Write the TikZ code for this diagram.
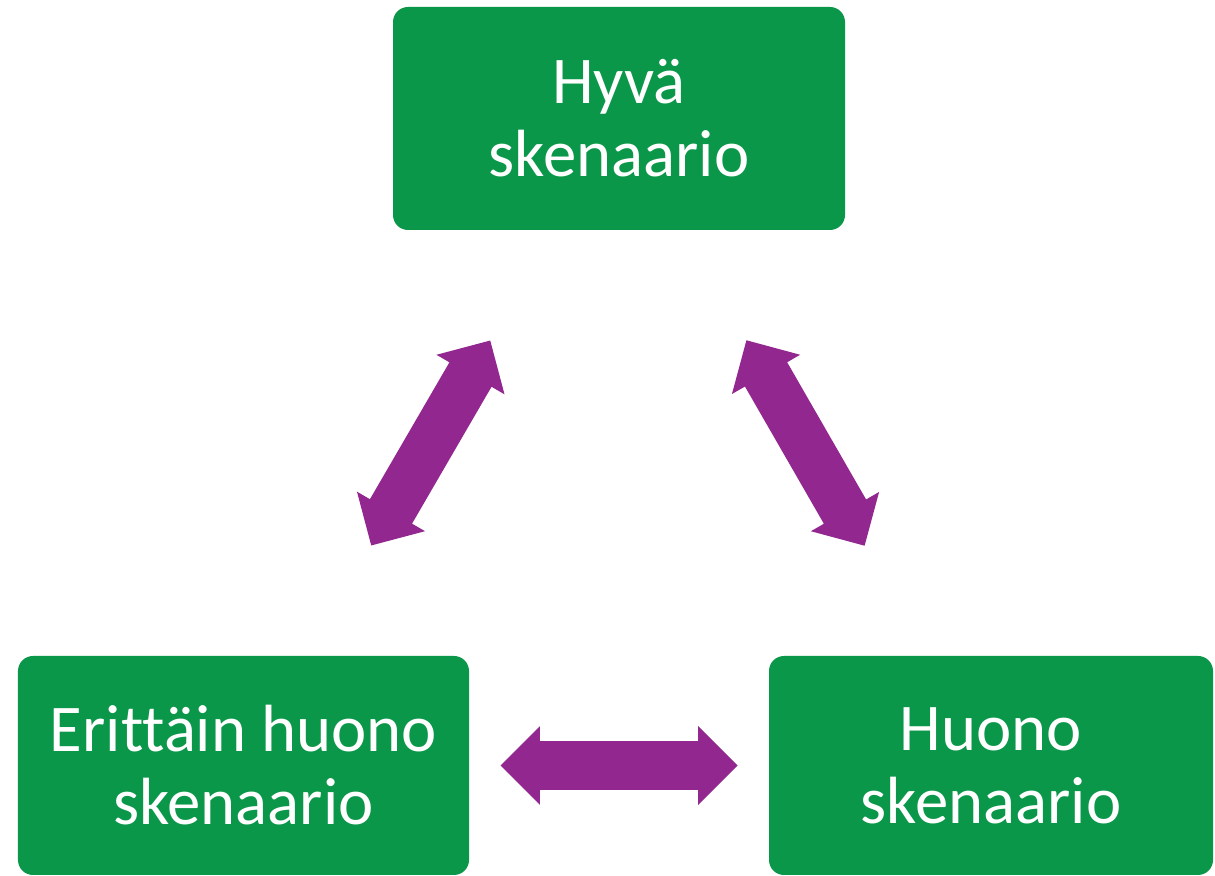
\documentclass[tikz,border=0pt]{standalone}
\usepackage{fontspec}
\setmainfont{Carlito}[Ligatures=NoCommon]
\usetikzlibrary{shapes.arrows}
\definecolor{scengreen}{RGB}{11,151,73}
\definecolor{arrowpurple}{RGB}{146,39,143}

\begin{document}
\begin{tikzpicture}[scenario/.style={shape=rectangle,rounded corners=0.3cm,fill=scengreen,text=white,
      align=center,inner sep=0pt,minimum width=9.02cm,minimum height=4.38cm,
      font=\fontsize{38}{41.5}\selectfont},
    fatarrow/.style={double arrow,fill=arrowpurple,draw=none,inner xsep=0pt,inner ysep=0.48cm,
      minimum height=4.74cm,
      double arrow head extend=0.3cm,double arrow tip angle=90}]
  \useasboundingbox (0,0) rectangle (24.3,17.52);
  % the three scenarios
  \node (good) [scenario,minimum width=9.04cm,minimum height=4.46cm] at (12.38,15.15) {Hyvä\\skenaario};
  \node (verybad) [scenario] at (4.87,2.21) {Erittäin huono\\skenaario};
  \node (bad) [scenario,minimum width=8.88cm] at (19.82,2.21) {Huono\\skenaario};

  % two-way arrows between them
  \path (good) -- (verybad) node [midway,sloped,fatarrow] {};
  \path (good) -- (bad) node [midway,sloped,fatarrow] {};
  \path (verybad) -- (bad) node [midway,sloped,fatarrow] {};
\end{tikzpicture}
\end{document}
